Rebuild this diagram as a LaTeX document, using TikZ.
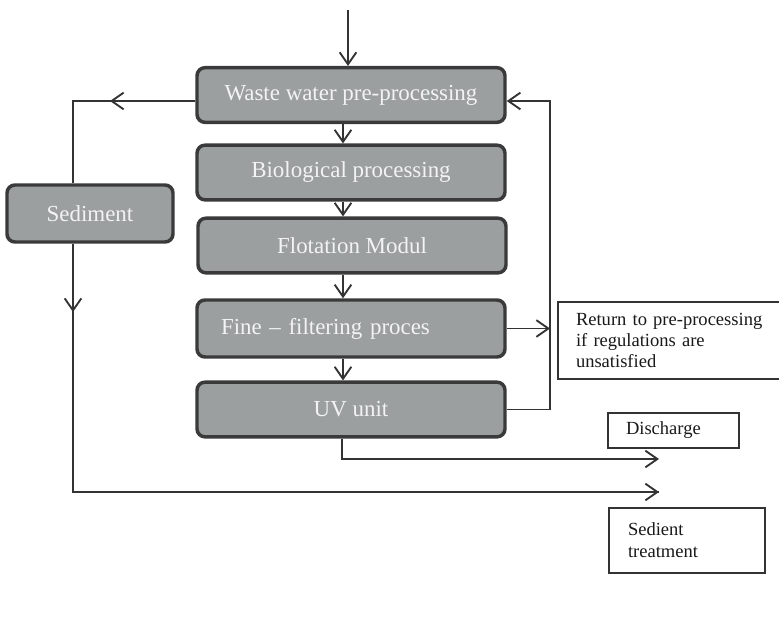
\documentclass[tikz,border=0pt]{standalone}
\usepackage{fontspec}
\setmainfont{Liberation Serif}
\usetikzlibrary{arrows.meta}
\definecolor{boxfill}{HTML}{9C9FA0}
\definecolor{boxdraw}{HTML}{3A3A3A}
\definecolor{boxtext}{HTML}{F2F4F4}
\definecolor{linec}{HTML}{333333}
\begin{document}
\begin{tikzpicture}[x=0.75pt,y=-0.75pt,
  proc/.style={draw=boxdraw,line width=2.6pt,fill=boxfill,rounded corners=6pt,
    minimum width=231pt,minimum height=41pt,inner sep=0pt,
    text=boxtext,font=\fontsize{17.2}{20}\selectfont},
  note/.style={draw=linec,line width=1.5pt,fill=white,inner ysep=0pt,anchor=west,
    align=left,font=\fontsize{13.9}{16}\selectfont,text=black!90},
  conn/.style={draw=linec,line width=1.4pt},
  arr/.style={conn,-{Straight Barb[length=9pt,width=12.5pt,line width=1.4pt]}}
]
\useasboundingbox[fill=white] (0,0) rectangle (779,619);

% process boxes
\node[proc] (ww)   at (351,95)    {Waste water pre-processing};
\node[proc] (bio)  at (351,172.5) {Biological processing};
\node[proc] (flot) at (352,245.5) {Flotation Modul};
\node[proc,minimum height=42.75pt,text width=195pt,align=left] (fine) at (351,328.5) {Fine -- filtering proces};
\node[proc] (uv)   at (351,409.5) {UV unit};
\node[proc,minimum width=124.5pt,minimum height=42.75pt] (sed) at (90,213.5) {Sediment};

% note boxes
\node[note,minimum height=57.75pt,text width=160pt,inner xsep=13.5pt] (ret) at (557,340.5)
  {Return to pre-processing\\if regulations are\\unsatisfied};
\node[note,minimum height=26.25pt,text width=71.25pt,inner xsep=13.5pt] (dis) at (607,430.5) {Discharge};
\node[note,minimum height=48.75pt,text width=88.5pt,inner xsep=14.25pt,
  font=\fontsize{13.9}{16.5}\selectfont] (sedt) at (608,540.5) {Sedient\\treatment};

% helper coordinates
\coordinate (in) at (348,10);
\coordinate (ax) at (343,0);
\coordinate (lc) at (73,101);
\coordinate (lm) at (110,101);
\coordinate (sm) at (73,312);
\coordinate (sb) at (73,492);
\coordinate (se) at (659,492);
\coordinate (rc) at (550,101);
\coordinate (ub) at (342,459);
\coordinate (de) at (659,459);

% main chain
\draw[arr] (in) -- (in |- ww.north);
\draw[arr] (ww.south -| ax) -- (bio.north -| ax);
\draw[arr] (bio.south -| ax) -- (flot.north -| ax);
\draw[arr] (flot.south -| ax) -- (fine.north -| ax);
\draw[arr] (fine.south -| ax) -- (uv.north -| ax);

% sediment branch
\draw[conn] (lc -| ww.west) -- (lc) -- (lc |- sed.north);
\draw[arr] (lc -| ww.west) -- (lm);
\draw[conn] (sed.south -| sb) -- (sb) -- (se);
\draw[arr] (sed.south -| sb) -- (sm);
\draw[arr] (sb) -- (se);

% return loop
\draw[arr] (uv.east) -- (uv.east -| rc) -- (rc) -- (rc -| ww.east);
\draw[arr] (fine.east) -- (fine.east -| rc);

% discharge
\draw[arr] (uv.south -| ub) -- (ub) -- (de);
\end{tikzpicture}
\end{document}
